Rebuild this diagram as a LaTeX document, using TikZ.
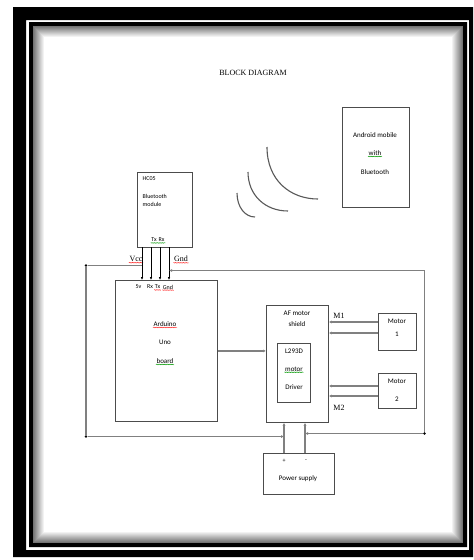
\documentclass[tikz,border=0pt]{standalone}
\usepackage{fontspec}
\setmainfont{Liberation Serif}
\newfontfamily\calib{Carlito}
\usepackage{tikz}
\usetikzlibrary{positioning,arrows.meta,calc,decorations.pathmorphing}

\tikzset{
	blk/.style={draw=black!70, line width=0.8pt, fill=white, inner sep=0pt, anchor=north west},
	txt/.style={font=\calib\fontsize{7}{8}\selectfont, inner sep=0.5pt},
	small/.style={font=\calib\fontsize{6}{7}\selectfont, inner sep=0.5pt},
	lbl/.style={font=\fontsize{8}{9}\selectfont, inner sep=0.5pt},
	wire/.style={draw=black!50, line width=1.2pt},
	tip/.style={-{Latex[length=3pt,width=3pt]}},
	pin/.style={draw=black, line width=0.6pt, -{Latex[length=3pt,width=2.6pt]}},
	dot/.style={circle, fill=black, inner sep=0pt, minimum size=2.6pt},
	wave/.style={draw=black!65, line width=1.1pt},
	squig/.style={line width=0.4pt, decorate,
		decoration={snake, amplitude=0.35pt, segment length=1.6pt}},
}

\begin{document}
\begin{tikzpicture}[x=1pt, y=-1pt]
		\useasboundingbox (0,0) rectangle (474,560);
		\fill[white] (0,0) rectangle (474,560);
		% page border: thick-thin with shadow
		\fill[black, even odd rule] (13,7) rectangle (473,557) (26,20) rectangle (469,550);
		\fill[black, even odd rule] (29,22) rectangle (467,547) (33,26) rectangle (463,543);
		\foreach \i [evaluate=\i as \c using int(55-5*\i)] in {0,...,10}
			\draw[black!\c, line width=1pt] (33.5+\i,26.5+\i) rectangle (462.5-\i,542.5-\i);
		\node[lbl] (title) at (253,73) {BLOCK DIAGRAM};
		% blocks
		\node[blk, minimum width=67pt, minimum height=100pt] (phone) at (342,107) {};
		\node[blk, minimum width=55pt, minimum height=75pt] (hc) at (137,172) {};
		\node[blk, minimum width=102pt, minimum height=141pt] (uno) at (115,280) {};
		\node[blk, minimum width=62pt, minimum height=117pt] (shield) at (266,305) {};
		\node[blk, minimum width=33pt, minimum height=59pt] (drv) at (277,343) {};
		\node[blk, minimum width=38pt, minimum height=37pt] (mot1) at (378,313) {};
		\node[blk, minimum width=38pt, minimum height=35pt] (mot2) at (378,373) {};
		\node[blk, minimum width=71pt, minimum height=41pt] (psu) at (263,453) {};
		% block texts
		\node[txt] (ph1) at (375,135) {Android mobile};
		\node[txt] (ph2) at (375,153) {with};
		\node[txt] (ph3) at (375,172) {Bluetooth};
		\node[small, anchor=west] (hc1) at (142,179) {HC05};
		\node[small, anchor=west] (hc2) at (142,196) {Bluetooth};
		\node[small, anchor=west] (hc3) at (142,204) {module};
		\node[small] (hc4) at (158,240) {Tx\,\,Rx};
		\node[small] (pn1) at (138.5,287) {5v};
		\node[small] (pn2) at (150,287) {Rx};
		\node[small] (pn3) at (157.5,287) {Tx};
		\node[small] (pn4) at (168,287) {Gnd};
		\node[txt] (un1) at (165,324) {Arduino};
		\node[txt] (un2) at (165,342) {Uno};
		\node[txt] (un3) at (165,361) {board};
		\node[txt] (sh1) at (297,313) {AF motor};
		\node[txt] (sh2) at (297,324) {shield};
		\node[txt] (dr1) at (294,351) {L293D};
		\node[txt] (dr2) at (294,369) {motor};
		\node[txt] (dr3) at (294,387) {Driver};
		\node[txt] (mo1) at (397,321) {Motor};
		\node[txt] (mo2) at (397,334) {1};
		\node[txt] (mo3) at (397,381) {Motor};
		\node[txt] (mo4) at (397,399) {2};
		\node[small] (ps1) at (284,461) {+};
		\node[small] (ps2) at (306,461) {-};
		\node[txt] (ps3) at (298,479) {Power supply};
		\node[lbl] (vcc) at (136,259) {Vcc};
		\node[lbl] (gnd) at (181,259) {Gnd};
		\node[lbl] (m1) at (339,316) {M1};
		\node[lbl] (m2) at (339,408) {M2};
		% spell-check marks
		\foreach \n in {vcc,gnd,un1,pn3,pn4}
			\draw[squig, red!85] ([yshift=-0.3pt]\n.south west) -- ([yshift=-0.3pt]\n.south east);
		\foreach \n in {ph2,un3,dr2,hc4}
			\draw[squig, green!60!black] ([yshift=-0.3pt]\n.south west) -- ([yshift=-0.3pt]\n.south east);
		% bluetooth waves
		\draw[wave] (267,147) .. controls (267,180) and (290,199) .. (318,199);
		\draw[wave] (248,172) .. controls (248,195) and (265,211) .. (288,211);
		\draw[wave] (237,193) .. controls (237,207) and (245,217) .. (255,217);
		% HC05 -> Arduino pins
		\foreach \px [count=\i] in {142,151,160,169}
			\coordinate (p\i) at (\px,247);
		\foreach \i in {1,...,4}
			\draw[pin] (p\i) -- (p\i |- uno.north);
		% power rails
		\coordinate (pplus) at (284,453);
		\coordinate (pminus) at (305,453);
		\draw[wire, tip] (pplus) -- (pplus |- shield.south);
		\draw[wire, tip] (pminus) -- (pminus |- shield.south);
		% Vcc loop
		\node[dot] (vcct) at (86,265.5) {};
		\node[dot] (vccb) at (86,436.5) {};
		\draw[wire] (vcct -| p1) -- (vcct) -- (vccb);
		\draw[wire, tip] (vccb) -- (vccb -| pplus);
		% Gnd loop
		\coordinate (gndt) at (424.5,270.5);
		\node[dot] (gndb) at (424.5,433.5) {};
		\draw[wire, tip] (gndb) -- (gndt) -- (gndt -| p4);
		\draw[wire, tip] (gndb) -- (gndb -| pminus);
		% Arduino -> shield
		\draw[wire, tip] (uno.east) -- (uno.east -| shield.west);
		% motors -> shield
		\foreach \m/\a/\b in {mot1/9/20, mot2/13/23}
			{\draw[wire, line width=1.8pt, tip] ([yshift=-\a pt]\m.north west) -- ([yshift=-\a pt]\m.north west -| shield.east);
			\draw[wire, tip] ([yshift=-\b pt]\m.north west) -- ([yshift=-\b pt]\m.north west -| shield.east);}
	\end{tikzpicture}
\end{document}
